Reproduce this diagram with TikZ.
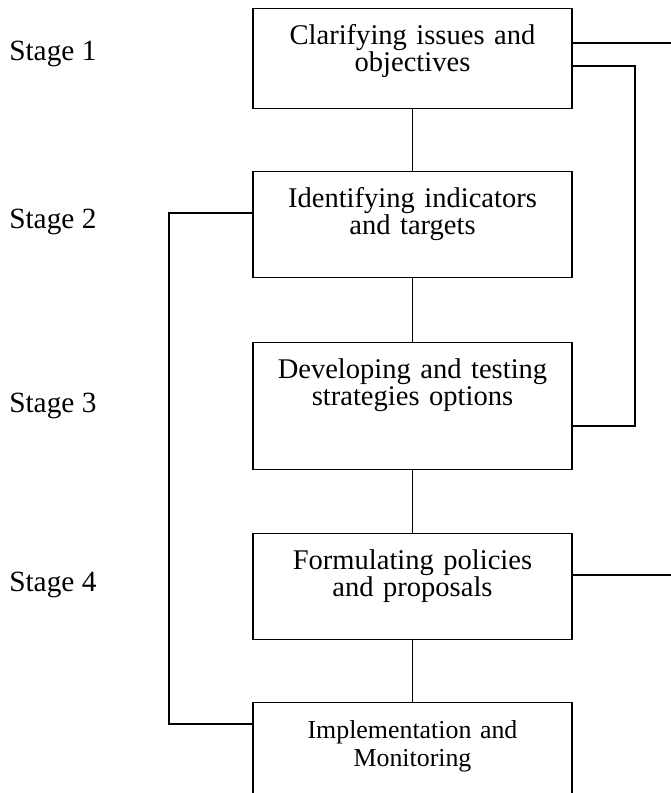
\documentclass[tikz,border=0pt]{standalone}
\usepackage{fontspec}
\setmainfont{Liberation Serif}
\usetikzlibrary{calc}

\begin{document}
\begin{tikzpicture}[x=0.75pt,y=-0.75pt]
\tikzstyle{stagebox}=[rectangle,draw,line width=1.1pt,anchor=north,
text width=229.25pt,inner xsep=5pt,inner ysep=0pt,align=center,
text height=27pt,font=\fontsize{21.4}{20.25}\selectfont]
\tikzstyle{stagelabel}=[anchor=base west,inner sep=0pt,
font=\fontsize{22}{22}\selectfont]
\tikzstyle{link}=[line width=1.1pt]

\useasboundingbox (0,0) rectangle (671,793);
\clip (0,0) rectangle (671,793);

\node[stagelabel] (s1) at (9,60) {Stage 1};
\node[stagelabel] (s2) at (9,228) {Stage 2};
\node[stagelabel] (s3) at (9,412) {Stage 3};
\node[stagelabel] (s4) at (9,591) {Stage 4};

\node[stagebox,text depth=48pt] (clarify) at (412.5,8) {Clarifying issues and\\objectives};
\node[stagebox,text depth=52.5pt] (identify) at (412.5,171) {Identifying indicators\\and targets};
\node[stagebox,text depth=68.25pt] (develop) at (412.5,342) {Developing and testing\\strategies options};
\node[stagebox,text depth=52.5pt] (formulate) at (412.5,533) {Formulating policies\\and proposals};
\node[stagebox,text depth=70pt,font=\fontsize{19.4}{21}\selectfont] (implement) at (412.5,702) {Implementation and\\Monitoring};

\coordinate (outtop) at (671,43);
\coordinate (loopright) at (635,66);
\coordinate (loopbottom) at (635,426);
\coordinate (outmid) at (671,575);
\coordinate (loopleft) at (169,213);
\coordinate (loopend) at (169,724);

\draw[link] (clarify) -- (identify);
\draw[link] (identify) -- (develop);
\draw[link] (develop) -- (formulate);
\draw[link] (formulate) -- (implement);
\draw[link] (clarify.east |- outtop) -- (outtop);
\draw[link] (clarify.east |- loopright) -- (loopright) -- (loopbottom) -- (develop.east |- loopbottom);
\draw[link] (formulate.east |- outmid) -- (outmid);
\draw[link] (identify.west |- loopleft) -- (loopleft) -- (loopend) -- (implement.west |- loopend);

\end{tikzpicture}
\end{document}
